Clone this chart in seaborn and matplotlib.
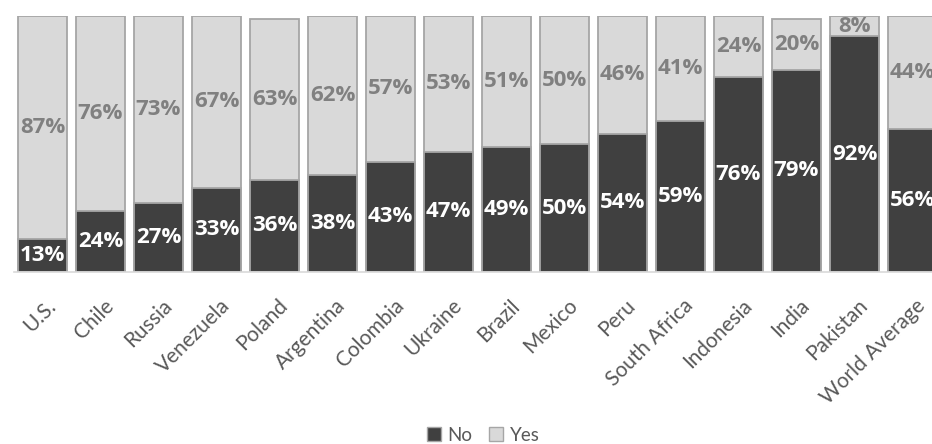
import matplotlib
matplotlib.use("Agg")
import matplotlib.pyplot as plt
import matplotlib.transforms as mtransforms
from matplotlib.patches import Patch
import seaborn as sns
import pandas as pd

countries = ["U.S.", "Chile", "Russia", "Venezuela", "Poland", "Argentina",
             "Colombia", "Ukraine", "Brazil", "Mexico", "Peru", "South Africa",
             "Indonesia", "India", "Pakistan", "World Average"]
no_pct = [13, 24, 27, 33, 36, 38, 43, 47, 49, 50, 54, 59, 76, 79, 92, 56]
yes_pct = [87, 76, 73, 67, 63, 62, 57, 53, 51, 50, 46, 41, 24, 20, 8, 44]

df = pd.DataFrame({"country": countries, "No": no_pct, "Yes": yes_pct})
df["total"] = df["No"] + df["Yes"]

sns.set_theme(style="white")
plt.rcParams["font.family"] = ["Lato", "DejaVu Sans"]

dark = "#404040"
light = "#d9d9d9"
edge = "#a6a6a6"
text_grey = "#595959"

fig = plt.figure(figsize=(9.32, 4.44), dpi=100)
ax = fig.add_axes([13.5 / 932, 172 / 444, 928 / 932, 256 / 444])

# Stacked bars: the full bar (No + Yes) in light grey, then No over it in dark grey
sns.barplot(data=df, x="country", y="total", color=light, width=0.845,
            edgecolor=edge, linewidth=1.3, saturation=1, ax=ax)
sns.barplot(data=df, x="country", y="No", color=dark, width=0.845,
            edgecolor=edge, linewidth=1.3, saturation=1, ax=ax)

for i, (n, y) in enumerate(zip(no_pct, yes_pct)):
    ax.text(i, n / 2, f"{n}%", ha="center", va="center", color="white",
            fontsize=16, fontweight="bold", family=["Open Sans", "DejaVu Sans"])
    ax.text(i, n + y / 2, f"{y}%", ha="center", va="center", color="#808080",
            fontsize=16, fontweight="bold", family=["Open Sans", "DejaVu Sans"])

ax.set_xlim(-0.5, len(countries) - 0.5)
ax.set_ylim(0, 100)
ax.set_xlabel("")
ax.set_ylabel("")
ax.set_yticks([])
ax.tick_params(axis="x", length=0, pad=17)
ax.set_xticks(range(len(countries)))
ax.set_xticklabels(countries, rotation=45, ha="right", va="top",
                   rotation_mode="anchor", color=text_grey, fontsize=15)
shift = mtransforms.ScaledTranslation(3 / 100, 0, fig.dpi_scale_trans)
for lab in ax.get_xticklabels():
    lab.set_transform(lab.get_transform() + shift)

for s in ["top", "left", "right"]:
    ax.spines[s].set_visible(False)
ax.spines["bottom"].set_color("#d9d9d9")
ax.spines["bottom"].set_linewidth(1.2)

handles = [Patch(facecolor=dark, edgecolor=edge, label="No"),
           Patch(facecolor=light, edgecolor=edge, label="Yes")]
fig.legend(handles=handles, loc="center", bbox_to_anchor=(483 / 932, 9 / 444),
           ncol=2, frameon=False, fontsize=13.5, handlelength=0.75,
           handleheight=0.75, handletextpad=0.35, columnspacing=0.9,
           labelcolor=text_grey, borderpad=0)

fig.savefig("out.png", dpi=100)
